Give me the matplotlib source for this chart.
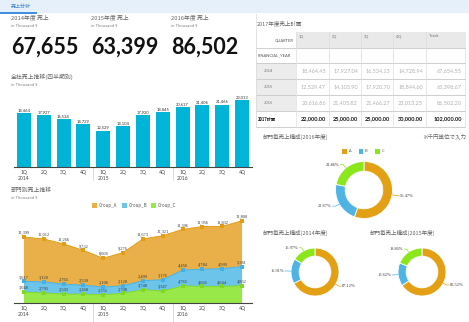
import numpy as np
import matplotlib
matplotlib.use("Agg")
import matplotlib.pyplot as plt
from matplotlib.patches import Rectangle
from matplotlib.transforms import blended_transform_factory

# ---- data -------------------------------------------------------------
quarters = ["1Q", "2Q", "3Q", "4Q"] * 3
years = ["2014", "2015", "2016"]
kpi_titles = ["2014年度 売上", "2015年度 売上", "2016年度 売上"]
kpi_values = ["67,655", "63,399", "86,502"]

totals = [18464, 17927, 16534, 14729, 12529, 14104,
          17920, 18845, 20617, 21406, 21466, 23013]
group_a = [12399, 12012, 11266, 9732, 8068, 9276,
           11673, 12321, 11396, 11956, 11832, 12800]
group_b = [3017, 3120, 2765, 2539, 2106, 2120,
           2499, 3176, 4456, 4784, 4990, 5381]
group_c = [3048, 2795, 2503, 2458, 2355, 2708,
           3748, 3347, 4765, 4666, 4644, 4832]

table_cols = ["1Q", "2Q", "3Q", "4Q", "Totals"]
table_rows = ["2014", "2015", "2016", "2017計画"]
table_vals = [
    ["18,464.45", "17,927.04", "16,534.13", "14,728.94", "67,654.55"],
    ["12,529.47", "14,103.90", "17,920.70", "18,844.60", "63,398.67"],
    ["20,616.86", "21,405.82", "21,466.27", "23,013.25", "86,502.20"],
    ["22,000.00", "25,000.00", "25,000.00", "30,000.00", "102,000.00"],
]

pie_labels = ["A", "B", "C"]
pie_2016 = [55.47, 22.67, 21.86]
pie_2014 = [67.12, 16.91, 15.97]
pie_2015 = [65.52, 15.62, 18.86]

# ---- style ------------------------------------------------------------
W, H = 469, 322
JP = ["Noto Sans CJK JP", "DejaVu Sans"]
plt.rcParams["font.family"] = JP
BAR = "#00b4d8"
AREA = {"A": "#e9b04a", "B": "#6cc4ea", "C": "#99e84a"}
EDGE = {"A": "#e39d14", "B": "#47b0e3", "C": "#80d820"}
PIE = ["#e3a015", "#4fb4e4", "#8be61c"]
GRAY = "#666666"


def box(x0, y0, x1, y1):
    return [x0 / W, 1 - y1 / H, (x1 - x0) / W, (y1 - y0) / H]


fig = plt.figure(figsize=(W / 100, H / 100), dpi=100)
ov = fig.add_axes([0, 0, 1, 1], zorder=0)
ov.set_xlim(0, W)
ov.set_ylim(H, 0)
ov.axis("off")

# top band with tab
ov.add_patch(Rectangle((0, 0), W, 13, color="#e6f0fa", lw=0))
ov.add_patch(Rectangle((0, 12), 37, 1.5, color="#3f8ee0", lw=0))
ov.text(11, 6.5, "売上分析", fontsize=3.6, color="#3f7fd0", va="center")

# KPI blocks
for i, (t, v) in enumerate(zip(kpi_titles, kpi_values)):
    x0 = 11 + 80 * i
    ov.text(x0, 17, t, fontsize=4.2, color=GRAY, va="center")
    ov.text(x0, 26, "in Thousand ¥", fontsize=2.8, color="#777", va="center")
    ov.text(x0 + 0.5, 47.5, v, fontsize=15.5, family="Lato", weight="bold",
            color="#111", va="center")


def cat_axis(ax, sep_len):
    for s in ["top", "left", "right"]:
        ax.spines[s].set_visible(False)
    ax.spines["bottom"].set_color("#444")
    ax.spines["bottom"].set_linewidth(0.8)
    ax.set_yticks([])
    labels = [q + ("\n" + years[i // 4] if i % 4 == 0 else "")
              for i, q in enumerate(quarters)]
    ax.set_xticks(np.arange(12), labels, fontsize=3.6, color="#444",
                  family="Lato", va="top")
    ax.tick_params(axis="x", length=0, pad=2.5)
    ax.set_xlim(-0.5, 11.5)
    ax.set_facecolor("none")
    tr = blended_transform_factory(ax.transData, ax.transAxes)
    for xs in [3.5, 7.5]:
        ax.plot([xs, xs], [0, -sep_len], transform=tr, clip_on=False,
                color="#cccccc", lw=0.5)


# bar chart
ov.text(11, 77, "全社売上推移(四半期別)", fontsize=4.2, color=GRAY, va="center")
ov.text(11, 85, "in Thousand ¥", fontsize=2.8, color="#777", va="center")
ax = fig.add_axes(box(14, 93, 252, 167), zorder=2)
x = np.arange(len(totals))
ax.bar(x, totals, width=0.7, color=BAR)
ax.set_ylim(0, 25500)
cat_axis(ax, 0.18)
for i, v in enumerate(totals):
    ax.text(i, v + 300, f"{v:,}", ha="center", va="bottom", fontsize=3.0,
            color="#333", family="Lato")

# stacked area chart
ov.text(11, 190, "部門別売上推移", fontsize=4.2, color=GRAY, va="center")
ov.text(11, 198, "in Thousand ¥", fontsize=2.8, color="#777", va="center")
for i, g in enumerate(["Group_A", "Group_B", "Group_C"]):
    lx = 92 + 29.5 * i
    ov.add_patch(Rectangle((lx, 203), 5, 4.5, color=[AREA["A"], AREA["B"], AREA["C"]][i], lw=0))
    ov.text(lx + 7, 205.3, g, fontsize=3.2, color="#555", va="center")

ax2 = fig.add_axes(box(14, 215, 252, 303), zorder=2)
c = np.array(group_c)
cb = c + np.array(group_b)
cba = cb + np.array(group_a)
ax2.stackplot(x, group_c, group_b, group_a,
              colors=[AREA["C"], AREA["B"], AREA["A"]], lw=0)
for top, vals, k in [(c, group_c, "C"), (cb, group_b, "B"), (cba, group_a, "A")]:
    ax2.plot(x, top, color=EDGE[k], lw=0.7, marker="s", ms=2.2, mew=0)
    for i, v in enumerate(vals):
        ax2.text(i, top[i] + 500, f"{v:,}", ha="center", va="bottom",
                 fontsize=3.2, family="Liberation Serif", color="#333")
ax2.set_ylim(0, 24650)
cat_axis(ax2, 0.22)

# table
ov.text(257, 24, "2017年度売上計画", fontsize=4.0, color=GRAY, va="center")
col_x = [256, 296, 329, 361, 393, 426, 465]
row_y = [32, 48, 63, 79, 95, 111, 127]
for j in range(1, 6):
    ov.add_patch(Rectangle((col_x[j], row_y[0]), col_x[j + 1] - col_x[j],
                           row_y[1] - row_y[0], color="#e9e9e9", lw=0))
for r in range(3):
    ov.add_patch(Rectangle((col_x[0], row_y[2 + r]), col_x[1] - col_x[0],
                           row_y[3 + r] - row_y[2 + r], color="#ececec", lw=0))
for yy in row_y[1:]:
    ov.plot([col_x[0], col_x[-1]], [yy, yy], color="#c8c8c8", lw=0.6)
for xx in col_x:
    ov.plot([xx, xx], [row_y[0], row_y[-1]], color="#dddddd", lw=0.5)
ov.plot([col_x[0], col_x[0]], [14, row_y[-1]], color="#dddddd", lw=0.5)
ov.text(294, 40, "QUARTER", fontsize=3.0, color="#555", ha="right",
        va="center", family="Lato")
for j, cname in enumerate(table_cols):
    ov.text(col_x[j + 1] + 3, 36, cname, fontsize=2.8, color="#777",
            va="center", family="Lato")
ov.text(258, 55.5, "FINANCIAL_YEAR", fontsize=3.0, color="#555",
        va="center", family="Lato")
for r, (rname, vals) in enumerate(zip(table_rows, table_vals)):
    yc = (row_y[2 + r] + row_y[3 + r]) / 2
    last = r == len(table_rows) - 1
    ov.text(258 if last else 264, yc, rname, fontsize=3.0,
            color="#222" if last else "#777", va="center",
            weight="bold" if last else "normal")
    for j, v in enumerate(vals):
        ov.text(col_x[j + 2] - 3, yc, v, fontsize=4.0, ha="right", va="center",
                family="Lato", color="#111" if last else "#b0b0b0",
                weight="bold" if last else "normal")


def donut(cx, cy, r, vals, fs):
    pa = fig.add_axes(box(cx - r, cy - r, cx + r, cy + r), zorder=2)
    wedges, _ = pa.pie(vals, colors=PIE, startangle=90, counterclock=False,
                       wedgeprops=dict(width=0.34, edgecolor="white", lw=0.6))
    pa.set_xlim(-1, 1)
    pa.set_ylim(-1, 1)
    pa.axis("off")
    for w, v, col in zip(wedges, vals, PIE):
        ang = np.deg2rad((w.theta1 + w.theta2) / 2)
        ux, uy = np.cos(ang), np.sin(ang)
        side = 1 if ux >= 0 else -1
        ex, ey = 1.15 * ux, 1.15 * uy
        pa.plot([ux, ex, ex + 0.1 * side], [uy, ey, ey], color=col, lw=0.5,
                clip_on=False)
        pa.text(ex + 0.13 * side, ey, f"{v:.2f}%", fontsize=fs,
                ha="left" if side > 0 else "right", va="center",
                family="Liberation Serif", color="#333", clip_on=False)


ov.text(263, 137, "部門毎売上構成(2016年度)", fontsize=4.0, color=GRAY, va="center")
ov.text(466, 137, "※千円単位で入力", fontsize=4.0, color=GRAY, ha="right", va="center")
for i, lab in enumerate(pie_labels):
    lx = 342 + 16.5 * i
    ov.add_patch(Rectangle((lx, 149), 4.5, 4.5, color=PIE[i], lw=0))
    ov.text(lx + 6.5, 151.3, lab, fontsize=3.0, color="#555", va="center")
donut(364, 190, 28.5, pie_2016, 3.2)

ov.text(263, 233, "部門毎売上構成(2014年度)", fontsize=4.0, color=GRAY, va="center")
donut(315, 272, 24, pie_2014, 3.2)
ov.text(370, 233, "部門毎売上構成(2015年度)", fontsize=4.0, color=GRAY, va="center")
donut(422, 272, 24, pie_2015, 3.2)

fig.savefig("out.png", dpi=100)
